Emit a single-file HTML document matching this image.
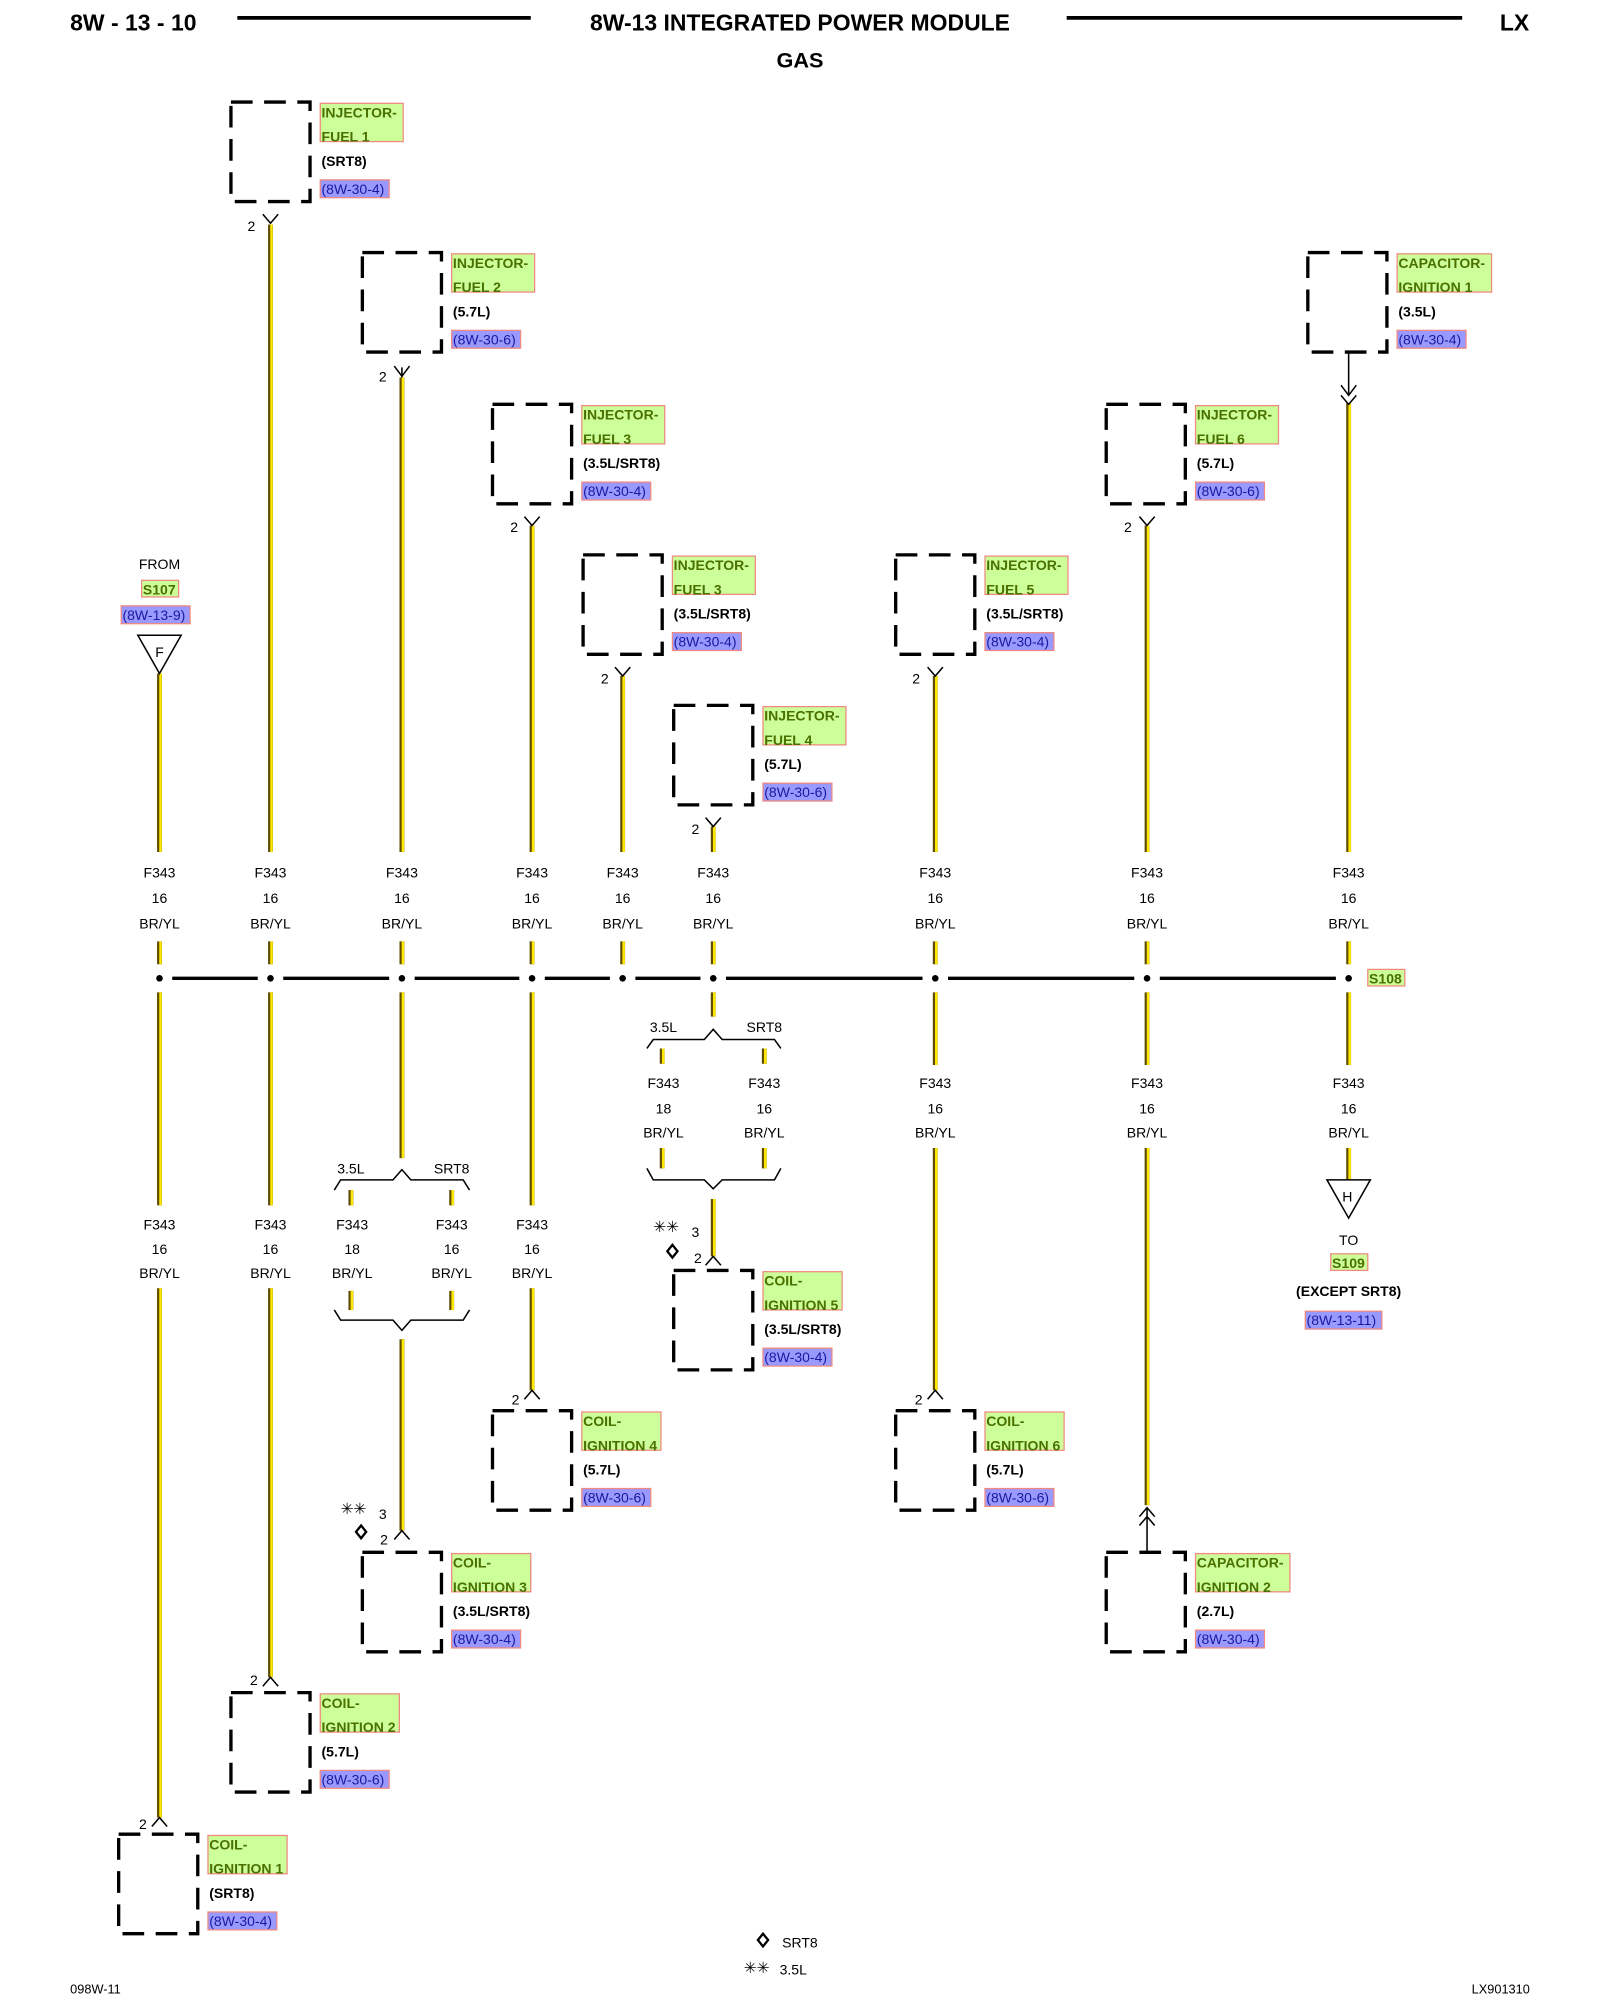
<!DOCTYPE html>
<html><head><meta charset="utf-8"><style>
html,body{margin:0;padding:0;background:#fff;}
svg{display:block;}
text{font-family:"Liberation Sans",Arial,sans-serif;}
.bx{fill:none;stroke:#000;stroke-width:2.6;stroke-dasharray:17 9;}
.gr{fill:#ccff99;stroke:#f08a80;stroke-width:1;}
.bl{fill:#9999ff;stroke:#f08a80;stroke-width:1;}
.gt{font-size:11px;font-weight:bold;fill:#4a7000;}
.vt{font-size:11px;font-weight:bold;fill:#000;}
.rt{font-size:11px;fill:#1a1aa0;}
.lb{font-size:11px;fill:#000;text-anchor:middle;}
.thin{stroke:#000;stroke-width:1.2;fill:none;}
.bus{stroke:#000;stroke-width:2.6;}
</style></head><body>
<svg width="1600" height="2000" viewBox="0 0 1254 1568" preserveAspectRatio="none" xmlns="http://www.w3.org/2000/svg">
<defs>
<path id="w" d="M125 528V668M125 738V756M125 778V945M125 1010V1425
M212 176V668M212 738V756M212 778V945M212 1010V1315
M315 296V668M315 738V756M315 778V908M315 1050V1200
M275 933V945M275 1012V1027M354 933V945M354 1012V1027
M417 412V668M417 738V756M417 778V945M417 1010V1090
M488 530V668M488 738V756
M559 648V668M559 738V756M559 778V797M559 940V985
M519 822V834M519 900V916M599 822V834M599 900V916
M733 530V668M733 738V756M733 778V835M733 900V1090
M899 412V668M899 738V756M899 778V835M899 900V1180
M1057 316V668M1057 738V756M1057 778V835M1057 900V925"/>
</defs>
<use href="#w" stroke="#5e4c00" stroke-width="3.8" fill="none"/>
<use href="#w" stroke="#ffe800" stroke-width="2" fill="none" transform="translate(0.8,0)"/>

<!-- header -->
<text x="55" y="24" font-size="18" font-weight="bold">8W - 13 - 10</text>
<line x1="186" y1="14" x2="416" y2="14" stroke="#000" stroke-width="3"/>
<text x="627" y="24" font-size="18" font-weight="bold" text-anchor="middle">8W-13 INTEGRATED POWER MODULE</text>
<line x1="836" y1="14" x2="1146" y2="14" stroke="#000" stroke-width="3"/>
<text x="1187" y="24" font-size="18" font-weight="bold" text-anchor="middle">LX</text>
<text x="627" y="53" font-size="17" font-weight="bold" text-anchor="middle">GAS</text>

<!-- bus -->
<g class="bus">
<line x1="135" y1="767" x2="202" y2="767"/><line x1="222" y1="767" x2="305" y2="767"/>
<line x1="325" y1="767" x2="407" y2="767"/><line x1="427" y1="767" x2="478" y2="767"/>
<line x1="498" y1="767" x2="549" y2="767"/><line x1="569" y1="767" x2="723" y2="767"/>
<line x1="743" y1="767" x2="889" y2="767"/><line x1="909" y1="767" x2="1047" y2="767"/>
</g>
<g fill="#000">
<circle cx="125" cy="767" r="2.6"/><circle cx="212" cy="767" r="2.6"/><circle cx="315" cy="767" r="2.6"/>
<circle cx="417" cy="767" r="2.6"/><circle cx="488" cy="767" r="2.6"/><circle cx="559" cy="767" r="2.6"/>
<circle cx="733" cy="767" r="2.6"/><circle cx="899" cy="767" r="2.6"/><circle cx="1057" cy="767" r="2.6"/>
</g>
<rect x="1072" y="760" width="29" height="13" class="gr"/>
<text x="1073" y="771" class="gt">S108</text>

<!-- wire labels row -->
<g class="lb">
<text x="125" y="688">F343</text><text x="125" y="708">16</text><text x="125" y="728">BR/YL</text>
<text x="212" y="688">F343</text><text x="212" y="708">16</text><text x="212" y="728">BR/YL</text>
<text x="315" y="688">F343</text><text x="315" y="708">16</text><text x="315" y="728">BR/YL</text>
<text x="417" y="688">F343</text><text x="417" y="708">16</text><text x="417" y="728">BR/YL</text>
<text x="488" y="688">F343</text><text x="488" y="708">16</text><text x="488" y="728">BR/YL</text>
<text x="559" y="688">F343</text><text x="559" y="708">16</text><text x="559" y="728">BR/YL</text>
<text x="733" y="688">F343</text><text x="733" y="708">16</text><text x="733" y="728">BR/YL</text>
<text x="899" y="688">F343</text><text x="899" y="708">16</text><text x="899" y="728">BR/YL</text>
<text x="1057" y="688">F343</text><text x="1057" y="708">16</text><text x="1057" y="728">BR/YL</text>

<text x="520" y="853">F343</text><text x="520" y="873">18</text><text x="520" y="892">BR/YL</text>
<text x="599" y="853">F343</text><text x="599" y="873">16</text><text x="599" y="892">BR/YL</text>
<text x="733" y="853">F343</text><text x="733" y="873">16</text><text x="733" y="892">BR/YL</text>
<text x="899" y="853">F343</text><text x="899" y="873">16</text><text x="899" y="892">BR/YL</text>
<text x="1057" y="853">F343</text><text x="1057" y="873">16</text><text x="1057" y="892">BR/YL</text>

<text x="125" y="964">F343</text><text x="125" y="983">16</text><text x="125" y="1002">BR/YL</text>
<text x="212" y="964">F343</text><text x="212" y="983">16</text><text x="212" y="1002">BR/YL</text>
<text x="276" y="964">F343</text><text x="276" y="983">18</text><text x="276" y="1002">BR/YL</text>
<text x="354" y="964">F343</text><text x="354" y="983">16</text><text x="354" y="1002">BR/YL</text>
<text x="417" y="964">F343</text><text x="417" y="983">16</text><text x="417" y="1002">BR/YL</text>

<text x="275" y="920">3.5L</text><text x="354" y="920">SRT8</text>
<text x="520" y="809">3.5L</text><text x="599" y="809">SRT8</text>
</g>

<!-- braces -->
<path class="thin" d="M262 933L267 925H308L315 917L322 925H363L368 933"/>
<path class="thin" d="M262 1027L267 1035H308L315 1043L322 1035H363L368 1027"/>
<path class="thin" d="M507 822L512 815H552L559 807L566 815H607L612 822"/>
<path class="thin" d="M507 916L512 925H552L559 932L566 925H607L612 916"/>

<!-- connector marks -->
<path class="thin" d="M206 168L212 175L218 168M315 296V288M309 287L315 295L321 287M411 405L417 412L423 405M482 523L488 530L494 523M553 641L559 648L565 641M727 523L733 530L739 523M893 405L899 412L905 405"/>
<path class="thin" d="M119 1432L125 1425L131 1432M206 1322L212 1315L218 1322M309 1207L315 1200L321 1207M411 1097L417 1090L423 1097M553 992L559 985L565 992M727 1097L733 1090L739 1097"/>
<path class="thin" d="M1057 276V310M1051 302L1057 310L1063 302M1051 310L1057 317L1063 310"/>
<path class="thin" d="M899 1217V1182M893 1189L899 1182L905 1189M893 1196L899 1189L905 1196"/>

<!-- pin numbers -->
<g font-size="11" text-anchor="middle">
<text x="197" y="181">2</text><text x="300" y="299">2</text><text x="403" y="417">2</text>
<text x="474" y="536">2</text><text x="545" y="654">2</text><text x="718" y="536">2</text><text x="884" y="417">2</text>
<text x="112" y="1434">2</text><text x="199" y="1321">2</text><text x="301" y="1211">2</text><text x="300" y="1191">3</text>
<text x="404" y="1101">2</text><text x="547" y="990">2</text><text x="545" y="970">3</text><text x="720" y="1101">2</text>
</g>
<g font-size="12" text-anchor="middle">
<text x="277" y="1187">✳✳</text><text x="522" y="966">✳✳</text><text x="593" y="1547">✳✳</text>
</g>
<path d="M283 1196L287 1201L283 1206L279 1201Z" fill="#fff" stroke="#000" stroke-width="1.8"/>
<path d="M527 976L531 981L527 986L523 981Z" fill="#fff" stroke="#000" stroke-width="1.8"/>
<path d="M598 1516L602 1521L598 1526L594 1521Z" fill="#fff" stroke="#000" stroke-width="1.8"/>
<text x="613" y="1527" font-size="11">SRT8</text>
<text x="611" y="1548" font-size="11">3.5L</text>

<!-- FROM S107 -->
<text x="125" y="446" class="lb">FROM</text>
<rect x="111" y="455" width="29" height="13" class="gr"/><text x="112" y="466" class="gt">S107</text>
<rect x="95" y="475" width="54" height="14" class="bl"/><text x="96" y="486" class="rt">(8W-13-9)</text>
<path d="M108 498H142L125 528Z" fill="#fff" stroke="#000" stroke-width="1.2"/>
<text x="125" y="515" class="lb">F</text>

<!-- TO S109 -->
<path d="M1040 925H1074L1057 955Z" fill="#fff" stroke="#000" stroke-width="1.2"/>
<text x="1056" y="942" class="lb">H</text>
<text x="1057" y="976" class="lb">TO</text>
<rect x="1043" y="983" width="29" height="13" class="gr"/><text x="1044" y="994" class="gt">S109</text>
<text x="1057" y="1016" class="lb" font-weight="bold">(EXCEPT SRT8)</text>
<rect x="1023" y="1028" width="60" height="14" class="bl"/><text x="1024" y="1039" class="rt">(8W-13-11)</text>

<!-- components -->
<g transform="translate(181,80)"><rect class="bx" width="62" height="78"/><rect class="gr" x="70" y="1" width="65" height="30"/><text class="gt" x="71" y="12">INJECTOR-</text><text class="gt" x="71" y="31">FUEL 1</text><text class="vt" x="71" y="50">(SRT8)</text><rect class="bl" x="70" y="61" width="54" height="14"/><text class="rt" x="71" y="72">(8W-30-4)</text></g>
<g transform="translate(284,198)"><rect class="bx" width="62" height="78"/><rect class="gr" x="70" y="1" width="65" height="30"/><text class="gt" x="71" y="12">INJECTOR-</text><text class="gt" x="71" y="31">FUEL 2</text><text class="vt" x="71" y="50">(5.7L)</text><rect class="bl" x="70" y="61" width="54" height="14"/><text class="rt" x="71" y="72">(8W-30-6)</text></g>
<g transform="translate(386,317)"><rect class="bx" width="62" height="78"/><rect class="gr" x="70" y="1" width="65" height="30"/><text class="gt" x="71" y="12">INJECTOR-</text><text class="gt" x="71" y="31">FUEL 3</text><text class="vt" x="71" y="50">(3.5L/SRT8)</text><rect class="bl" x="70" y="61" width="54" height="14"/><text class="rt" x="71" y="72">(8W-30-4)</text></g>
<g transform="translate(457,435)"><rect class="bx" width="62" height="78"/><rect class="gr" x="70" y="1" width="65" height="30"/><text class="gt" x="71" y="12">INJECTOR-</text><text class="gt" x="71" y="31">FUEL 3</text><text class="vt" x="71" y="50">(3.5L/SRT8)</text><rect class="bl" x="70" y="61" width="54" height="14"/><text class="rt" x="71" y="72">(8W-30-4)</text></g>
<g transform="translate(528,553)"><rect class="bx" width="62" height="78"/><rect class="gr" x="70" y="1" width="65" height="30"/><text class="gt" x="71" y="12">INJECTOR-</text><text class="gt" x="71" y="31">FUEL 4</text><text class="vt" x="71" y="50">(5.7L)</text><rect class="bl" x="70" y="61" width="54" height="14"/><text class="rt" x="71" y="72">(8W-30-6)</text></g>
<g transform="translate(702,435)"><rect class="bx" width="62" height="78"/><rect class="gr" x="70" y="1" width="65" height="30"/><text class="gt" x="71" y="12">INJECTOR-</text><text class="gt" x="71" y="31">FUEL 5</text><text class="vt" x="71" y="50">(3.5L/SRT8)</text><rect class="bl" x="70" y="61" width="54" height="14"/><text class="rt" x="71" y="72">(8W-30-4)</text></g>
<g transform="translate(867,317)"><rect class="bx" width="62" height="78"/><rect class="gr" x="70" y="1" width="65" height="30"/><text class="gt" x="71" y="12">INJECTOR-</text><text class="gt" x="71" y="31">FUEL 6</text><text class="vt" x="71" y="50">(5.7L)</text><rect class="bl" x="70" y="61" width="54" height="14"/><text class="rt" x="71" y="72">(8W-30-6)</text></g>
<g transform="translate(1025,198)"><rect class="bx" width="62" height="78"/><rect class="gr" x="70" y="1" width="74" height="30"/><text class="gt" x="71" y="12">CAPACITOR-</text><text class="gt" x="71" y="31">IGNITION 1</text><text class="vt" x="71" y="50">(3.5L)</text><rect class="bl" x="70" y="61" width="54" height="14"/><text class="rt" x="71" y="72">(8W-30-4)</text></g>

<g transform="translate(93,1438)"><rect class="bx" width="62" height="78"/><rect class="gr" x="70" y="1" width="62" height="30"/><text class="gt" x="71" y="12">COIL-</text><text class="gt" x="71" y="31">IGNITION 1</text><text class="vt" x="71" y="50">(SRT8)</text><rect class="bl" x="70" y="61" width="54" height="14"/><text class="rt" x="71" y="72">(8W-30-4)</text></g>
<g transform="translate(181,1327)"><rect class="bx" width="62" height="78"/><rect class="gr" x="70" y="1" width="62" height="30"/><text class="gt" x="71" y="12">COIL-</text><text class="gt" x="71" y="31">IGNITION 2</text><text class="vt" x="71" y="50">(5.7L)</text><rect class="bl" x="70" y="61" width="54" height="14"/><text class="rt" x="71" y="72">(8W-30-6)</text></g>
<g transform="translate(284,1217)"><rect class="bx" width="62" height="78"/><rect class="gr" x="70" y="1" width="62" height="30"/><text class="gt" x="71" y="12">COIL-</text><text class="gt" x="71" y="31">IGNITION 3</text><text class="vt" x="71" y="50">(3.5L/SRT8)</text><rect class="bl" x="70" y="61" width="54" height="14"/><text class="rt" x="71" y="72">(8W-30-4)</text></g>
<g transform="translate(386,1106)"><rect class="bx" width="62" height="78"/><rect class="gr" x="70" y="1" width="62" height="30"/><text class="gt" x="71" y="12">COIL-</text><text class="gt" x="71" y="31">IGNITION 4</text><text class="vt" x="71" y="50">(5.7L)</text><rect class="bl" x="70" y="61" width="54" height="14"/><text class="rt" x="71" y="72">(8W-30-6)</text></g>
<g transform="translate(528,996)"><rect class="bx" width="62" height="78"/><rect class="gr" x="70" y="1" width="62" height="30"/><text class="gt" x="71" y="12">COIL-</text><text class="gt" x="71" y="31">IGNITION 5</text><text class="vt" x="71" y="50">(3.5L/SRT8)</text><rect class="bl" x="70" y="61" width="54" height="14"/><text class="rt" x="71" y="72">(8W-30-4)</text></g>
<g transform="translate(702,1106)"><rect class="bx" width="62" height="78"/><rect class="gr" x="70" y="1" width="62" height="30"/><text class="gt" x="71" y="12">COIL-</text><text class="gt" x="71" y="31">IGNITION 6</text><text class="vt" x="71" y="50">(5.7L)</text><rect class="bl" x="70" y="61" width="54" height="14"/><text class="rt" x="71" y="72">(8W-30-6)</text></g>
<g transform="translate(867,1217)"><rect class="bx" width="62" height="78"/><rect class="gr" x="70" y="1" width="74" height="30"/><text class="gt" x="71" y="12">CAPACITOR-</text><text class="gt" x="71" y="31">IGNITION 2</text><text class="vt" x="71" y="50">(2.7L)</text><rect class="bl" x="70" y="61" width="54" height="14"/><text class="rt" x="71" y="72">(8W-30-4)</text></g>

<!-- footer -->
<text x="55" y="1563" font-size="10">098W-11</text>
<text x="1199" y="1563" font-size="10" text-anchor="end">LX901310</text>
</svg>
</body></html>
